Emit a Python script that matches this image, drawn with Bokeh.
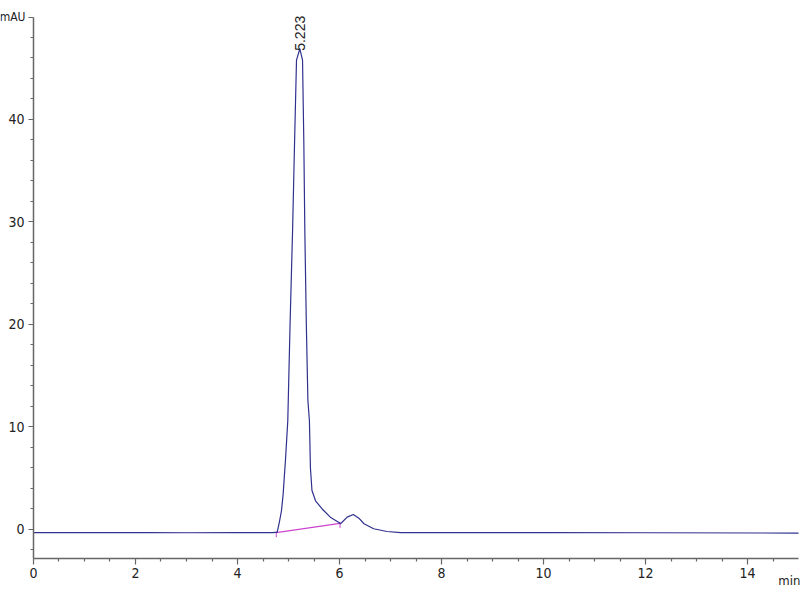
from bokeh.plotting import figure
from bokeh.models import FixedTicker, Range1d
from bokeh.core.properties import value
from bokeh.embed import file_html
from bokeh.resources import INLINE

# Chromatogram trace (time in min, absorbance in mAU)
time_min = [0.0, 0.3, 2.2, 3.0, 4.0, 4.70, 4.778, 4.82, 4.863, 4.896, 4.92, 4.94,
            4.986, 5.03, 5.08, 5.12, 5.157, 5.223, 5.275, 5.30, 5.32, 5.35, 5.38,
            5.41, 5.43, 5.46, 5.53, 5.66, 5.82, 5.98, 6.02, 6.15, 6.27, 6.38,
            6.48, 6.67, 6.93, 7.2, 8.0, 10.0, 12.0, 15.0]
signal_mau = [-0.30, -0.30, -0.30, -0.32, -0.30, -0.30, -0.25, 0.7, 1.85, 3.5, 5.3, 6.7,
              10.6, 19.9, 29.2, 38.0, 45.8, 46.9, 45.8, 38.0, 29.2, 19.9, 12.6,
              10.6, 6.0, 3.8, 2.8, 2.0, 1.2, 0.7, 0.56, 1.2, 1.46, 1.1,
              0.56, 0.07, -0.2, -0.3, -0.3, -0.3, -0.32, -0.35]

# Integration baseline of the main peak
baseline_time = [4.76, 6.01]
baseline_mau = [-0.30, 0.60]

# Peak annotation
peak_time = [5.223]
peak_top = [46.7]
peak_text = ["5.223"]

# Axes
x_start, x_end = 0, 15
y_start, y_end = -2.8, 50
x_ticks = [0, 2, 4, 6, 8, 10, 12, 14]
x_minor = [0.5, 1, 1.5, 2.5, 3, 3.5, 4.5, 5, 5.5, 6.5, 7, 7.5, 8.5, 9, 9.5,
           10.5, 11, 11.5, 12.5, 13, 13.5, 14.5]
y_ticks = [0, 10, 20, 30, 40, 50]
y_minor = [-2, 2, 4, 6, 8, 12, 14, 16, 18, 22, 24, 26, 28, 32, 34, 36, 38,
           42, 44, 46, 48]
y_unit = ["mAU"]
x_unit = ["min"]

TICK_FONT = "DejaVu Sans Condensed"
AXIS_COLOR = "#666666"
TEXT_COLOR = "#222222"
BASE_COLOR = "#cc44cc"

# the frame covers the whole canvas; the axes are placed at fixed positions inside it
p = figure(width=800, height=600, x_range=Range1d(-0.647, 15.039), y_range=Range1d(-6.93, 51.61),
           output_backend="svg", toolbar_location=None,
           min_border_left=0, min_border_right=0, min_border_top=0, min_border_bottom=0)
p.outline_line_color = None
p.xgrid.grid_line_color = None
p.ygrid.grid_line_color = None

p.line(baseline_time, baseline_mau, line_color=BASE_COLOR, line_width=1.2)
# small drop marks at the baseline ends
p.segment(x0=baseline_time, y0=[v - 0.45 for v in baseline_mau],
          x1=baseline_time, y1=[v + 0.1 for v in baseline_mau],
          line_color=BASE_COLOR, line_width=1)
p.line(time_min, signal_mau, line_color="#30308f", line_width=1.2)

p.text(x=peak_time, y=peak_top, text=peak_text, angle=1.5708,
       text_align="left", text_baseline="middle",
       text_font=value("Liberation Sans"), text_font_size="14px", text_color=TEXT_COLOR)

for ax in (p.xaxis[0], p.yaxis[0]):
    ax.axis_line_color = AXIS_COLOR
    ax.axis_line_width = 1.5
    ax.major_tick_line_color = AXIS_COLOR
    ax.minor_tick_line_color = AXIS_COLOR
    ax.major_tick_line_width = 1.2
    ax.minor_tick_line_width = 1.2
    ax.major_tick_in = 0
    ax.minor_tick_in = 0
    ax.major_label_text_font = TICK_FONT
    ax.major_label_text_font_size = "14px"
    ax.major_label_text_color = TEXT_COLOR

p.xaxis.fixed_location = y_start
p.yaxis.fixed_location = x_start
p.xaxis.bounds = (x_start, x_end)
p.yaxis.bounds = (y_start, y_end)
p.xaxis.ticker = FixedTicker(ticks=x_ticks, minor_ticks=x_minor)
p.yaxis.ticker = FixedTicker(ticks=y_ticks, minor_ticks=y_minor)
p.yaxis.major_label_overrides = {50: ""}
p.xaxis.major_tick_out = 6
p.xaxis.minor_tick_out = 3
p.yaxis.major_tick_out = 5
p.yaxis.minor_tick_out = 3
p.xaxis.major_label_standoff = 4
p.yaxis.major_label_standoff = 4

# unit labels
p.text(x=[x_start], y=[y_end], text=y_unit, x_offset=-8, text_align="right",
       text_baseline="middle", text_font=value(TICK_FONT), text_font_size="12px",
       text_color=TEXT_COLOR)
p.text(x=[14.82], y=[y_start], text=x_unit, y_offset=22, text_align="center",
       text_baseline="alphabetic", text_font=value(TICK_FONT), text_font_size="13px",
       text_color=TEXT_COLOR)

open("out.html", "w").write(file_html(p, INLINE))
